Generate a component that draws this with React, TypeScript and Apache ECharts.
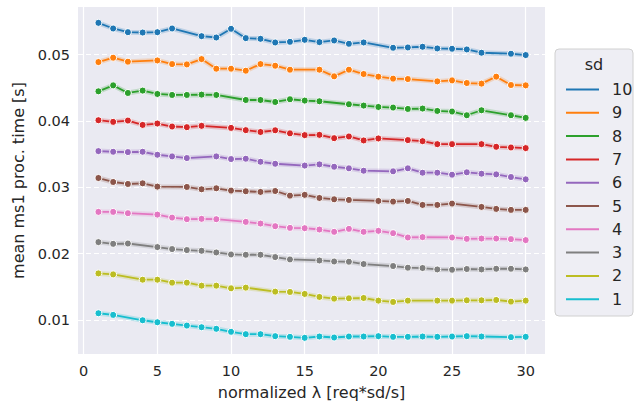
import React, { useEffect, useRef } from "react";
import * as echarts from "echarts";

const sdNames = ["10", "9", "8", "7", "6", "5", "4", "3", "2", "1"];
const colors = ["#1f77b4", "#ff7f0e", "#2ca02c", "#d62728", "#9467bd", "#8c564b", "#e377c2", "#7f7f7f", "#bcbd22", "#17becf"];

const x10 = [1,2,3,4,5,6,8,9,10,11,12,13,14,15,16,17,18,19,21,22,23,24,25,26,27,29,30];
const y10 = [0.05481,0.05396,0.05340,0.05335,0.05340,0.05396,0.05280,0.05260,0.05391,0.05250,0.05240,0.05185,0.05195,0.05225,0.05190,0.05215,0.05165,0.05185,0.05105,0.05110,0.05120,0.05095,0.05090,0.05080,0.05030,0.05015,0.04995];
const x9 = [1,2,3,5,6,7,8,9,10,11,12,13,14,16,17,18,19,20,21,22,24,25,26,27,28,29,30];
const y9 = [0.04889,0.04955,0.04895,0.04914,0.04859,0.04854,0.04934,0.04789,0.04789,0.04759,0.04859,0.04834,0.04774,0.04774,0.04674,0.04774,0.04709,0.04669,0.04639,0.04633,0.04598,0.04613,0.04573,0.04564,0.04669,0.04543,0.04538];
const x8 = [1,2,3,4,5,6,7,8,9,11,12,13,14,15,16,18,19,20,21,22,23,24,25,26,27,29,30];
const y8 = [0.04448,0.04538,0.04423,0.04459,0.04408,0.04393,0.04393,0.04398,0.04393,0.04317,0.04317,0.04287,0.04328,0.04308,0.04298,0.04253,0.04233,0.04212,0.04203,0.04182,0.04188,0.04152,0.04143,0.04087,0.04162,0.04087,0.04047];
const x7 = [1,2,3,4,5,6,7,8,10,11,12,13,14,15,16,17,18,19,20,22,23,24,25,27,28,29,30];
const y7 = [0.04012,0.03987,0.04007,0.03941,0.03962,0.03917,0.03907,0.03927,0.03896,0.03862,0.03834,0.03860,0.03814,0.03787,0.03791,0.03741,0.03767,0.03707,0.03737,0.03712,0.03696,0.03651,0.03651,0.03651,0.03611,0.03601,0.03591];
const x6 = [1,2,3,4,5,6,7,9,10,11,12,13,15,16,17,18,19,21,22,23,24,25,26,27,28,29,30];
const y6 = [0.03546,0.03536,0.03531,0.03536,0.03491,0.03466,0.03441,0.03466,0.03426,0.03431,0.03385,0.03355,0.03328,0.03346,0.03310,0.03286,0.03250,0.03241,0.03286,0.03220,0.03220,0.03190,0.03226,0.03205,0.03195,0.03155,0.03120];
const x5 = [1,2,3,4,5,7,8,9,10,11,12,13,14,15,16,17,18,20,21,22,23,24,25,27,28,29,30];
const y5 = [0.03140,0.03080,0.03050,0.03060,0.03010,0.03005,0.02970,0.02985,0.02950,0.02940,0.02930,0.02944,0.02874,0.02886,0.02839,0.02819,0.02809,0.02794,0.02784,0.02794,0.02734,0.02734,0.02754,0.02704,0.02674,0.02659,0.02659];
const x4 = [1,2,3,5,6,7,8,9,11,12,13,14,15,16,17,18,19,20,21,22,23,25,26,27,28,29,30];
const y4 = [0.02629,0.02629,0.02609,0.02588,0.02543,0.02519,0.02524,0.02519,0.02478,0.02453,0.02413,0.02388,0.02383,0.02363,0.02328,0.02373,0.02328,0.02343,0.02308,0.02243,0.02248,0.02243,0.02222,0.02227,0.02227,0.02218,0.02203];
const x3 = [1,2,3,5,6,7,8,9,10,11,12,13,14,16,17,18,19,21,22,23,24,25,26,27,28,29,30];
const y3 = [0.02173,0.02147,0.02152,0.02098,0.02068,0.02053,0.02042,0.02017,0.01987,0.01982,0.01982,0.01947,0.01912,0.01896,0.01881,0.01877,0.01842,0.01812,0.01787,0.01782,0.01761,0.01756,0.01767,0.01761,0.01771,0.01771,0.01761];
const x2 = [1,2,4,5,6,7,8,9,10,11,13,14,15,16,17,18,19,20,21,22,24,25,26,27,28,29,30];
const y2 = [0.01701,0.01686,0.01606,0.01606,0.01561,0.01561,0.01516,0.01516,0.01476,0.01486,0.01426,0.01421,0.01391,0.01346,0.01320,0.01325,0.01330,0.01290,0.01270,0.01290,0.01290,0.01290,0.01295,0.01295,0.01300,0.01275,0.01290];
const x1 = [1,2,4,5,6,7,8,9,10,11,12,13,14,15,16,17,18,19,20,21,22,23,24,25,26,27,29,30];
const y1 = [0.01100,0.01075,0.00994,0.00964,0.00940,0.00914,0.00889,0.00865,0.00820,0.00784,0.00784,0.00754,0.00744,0.00729,0.00749,0.00734,0.00749,0.00749,0.00754,0.00744,0.00744,0.00749,0.00744,0.00749,0.00754,0.00749,0.00739,0.00744];

const xsList = [x10, x9, x8, x7, x6, x5, x4, x3, x2, x1];
const ysList = [y10, y9, y8, y7, y6, y5, y4, y3, y2, y1];

const xTicks = [0, 5, 10, 15, 20, 25, 30];
const yTicks = [0.01, 0.02, 0.03, 0.04, 0.05];

const FONT = "DejaVu Sans";

export default function App() {
  const ref = useRef<HTMLDivElement>(null);
  useEffect(() => {
    if (!ref.current) return;
    const chart = echarts.init(ref.current, null, { renderer: "svg" });
    const series: any[] = [];
    series.push({
      name: "__grid",
      type: "line",
      data: [],
      z: 1,
      silent: true,
      markLine: {
        silent: true,
        symbol: ["none", "none"],
        label: { show: false },
        animation: false,
        data: [
          ...xTicks.map((v) => ({ xAxis: v, lineStyle: { color: "#ffffff", width: 1.2, type: "solid" } })),
          ...yTicks.map((v) => ({ yAxis: v, lineStyle: { color: "#ffffff", width: 1.2, type: [5, 3] } })),
        ],
      },
    });
    sdNames.forEach((name, i) => {
      const pts = xsList[i].map((x, j) => [x, ysList[i][j]]);
      series.push({
        name: name + " band",
        type: "line",
        data: pts,
        symbol: "none",
        silent: true,
        z: 5,
        lineStyle: { color: colors[i], width: 5, opacity: 0.22 },
      });
      series.push({
        name,
        type: "line",
        data: pts,
        symbol: "circle",
        symbolSize: 7,
        z: 6,
        color: colors[i],
        lineStyle: { color: colors[i], width: 1.8 },
        itemStyle: { color: colors[i], borderColor: "#ffffff", borderWidth: 1 },
      });
    });
    chart.setOption({
      animation: false,
      backgroundColor: "#ffffff",
      textStyle: { fontFamily: FONT },
      grid: {
        left: 78,
        top: 7,
        width: 467,
        height: 349,
        show: true,
        backgroundColor: "#EAEAF2",
        borderWidth: 0,
      },
      xAxis: {
        type: "value",
        min: -0.387,
        max: 31.31,
        axisLine: { show: false },
        axisTick: { show: false },
        splitLine: { show: false },
        axisLabel: {
          customValues: xTicks,
          color: "#262626",
          fontSize: 14.5,
          fontFamily: FONT,
          margin: 9,
        },
        name: "normalized λ [req*sd/s]",
        nameLocation: "middle",
        nameGap: 30,
        nameTextStyle: { color: "#262626", fontSize: 16, fontFamily: FONT },
      },
      yAxis: {
        type: "value",
        min: 0.00485,
        max: 0.0572,
        axisLine: { show: false },
        axisTick: { show: false },
        splitLine: { show: false },
        axisLabel: {
          customValues: yTicks,
          formatter: (v: number) => v.toFixed(2),
          color: "#262626",
          fontSize: 14.5,
          fontFamily: FONT,
          margin: 8,
        },
        name: "mean ms1 proc. time [s]",
        nameLocation: "middle",
        nameGap: 46,
        nameTextStyle: { color: "#262626", fontSize: 16, fontFamily: FONT },
      },
      legend: {
        data: sdNames,
        orient: "vertical",
        left: 561,
        top: 76,
        z: 10,
        icon: "rect",
        itemWidth: 33,
        itemHeight: 2,
        itemGap: 6.3,
        selectedMode: false,
        itemStyle: { borderWidth: 0 },
        textStyle: { color: "#262626", fontSize: 16, fontFamily: FONT, lineHeight: 17, padding: [0, 0, 0, 8] },
      },
      graphic: [
        {
          type: "rect",
          z: 5,
          shape: { x: 555, y: 49, width: 78, height: 267, r: 4 },
          style: { fill: "#EEEEF4", stroke: "#d0d0d0", lineWidth: 1 },
        },
        {
          type: "text",
          z: 6,
          x: 594,
          y: 64,
          style: { text: "sd", fill: "#262626", font: `16px '${FONT}'`, textAlign: "center", textVerticalAlign: "middle" },
        },
      ],
      series,
    });
    return () => chart.dispose();
  }, []);
  return <div ref={ref} style={{ position: "fixed", left: 0, top: 0, width: 641, height: 405 }} />;
}
